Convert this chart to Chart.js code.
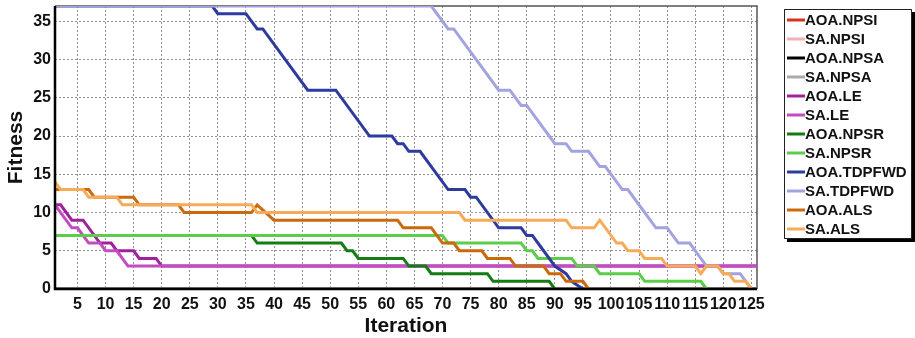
<!DOCTYPE html>
<html lang="en">
<head>
<meta charset="utf-8">
<title>Fitness vs Iteration</title>
<script src="https://cdn.jsdelivr.net/npm/chart.js@4.4.1/dist/chart.umd.min.js"></script>
<style>
    html, body { margin: 0; padding: 0; background: #fff; }
    #wrap { width: 915px; height: 338px; }
</style>
</head>
<body>
<div id="wrap"><canvas id="fitnessChart" width="915" height="338"></canvas></div>
<script>
// Series, in legend order
const seriesNames = ['AOA.NPSI', 'SA.NPSI', 'AOA.NPSA', 'SA.NPSA', 'AOA.LE', 'SA.LE',
    'AOA.NPSR', 'SA.NPSR', 'AOA.TDPFWD', 'SA.TDPFWD', 'AOA.ALS', 'SA.ALS'];

// Axis ticks
const xTicks = [5, 10, 15, 20, 25, 30, 35, 40, 45, 50, 55, 60, 65, 70, 75, 80, 85, 90, 95,
    100, 105, 110, 115, 120, 125];
const yTicks = [0, 5, 10, 15, 20, 25, 30, 35];

// Best fitness per run, as [iteration, fitness] break points (straight segments between them)
const aoaNpsi = [[1, 0], [126, 0]];
const saNpsi = [[1, 0], [126, 0]];
const aoaNpsa = [[1, 0], [126, 0]];
const saNpsa = [[1, 0], [126, 0]];
const aoaLe = [[1, 11], [2, 11], [4, 9], [6, 9], [9, 6], [11, 6], [12, 5], [15, 5], [16, 4],
    [19, 4], [20, 3], [126, 3]];
const saLe = [[1, 11], [2, 10], [4, 8], [5, 8], [7, 6], [9, 6], [10, 5], [12, 5], [14, 3], [126, 3]];
const aoaNpsr = [[1, 7], [36, 7], [37, 6], [52, 6], [53, 5], [54, 5], [55, 4], [63, 4], [64, 3],
    [67, 3], [68, 2], [78, 2], [79, 1], [89, 1], [90, 0]];
const saNpsr = [[1, 7], [70, 7], [71, 6], [84, 6], [85, 5], [86, 5], [87, 4], [93, 4], [94, 3],
    [97, 3], [98, 2], [105, 2], [106, 1], [116, 1], [117, 0]];
const aoaTdpfwd = [[1, 37], [29, 37], [30, 36], [35, 36], [37, 34], [38, 34], [46, 26], [51, 26],
    [57, 20], [61, 20], [62, 19], [63, 19], [64, 18], [66, 18], [71, 13], [74, 13], [75, 12],
    [76, 12], [80, 8], [84, 8], [85, 7], [86, 7], [88, 5], [89, 4], [90, 3], [92, 2], [93, 1], [95, 0]];
const saTdpfwd = [[1, 37], [68, 37], [71, 34], [72, 34], [80, 26], [82, 26], [84, 24], [85, 24],
    [90, 19], [92, 19], [93, 18], [96, 18], [98, 16], [99, 16], [102, 13], [103, 13], [108, 8],
    [110, 8], [112, 6], [114, 6], [117, 3], [119, 3], [120, 2], [123, 2], [125, 0]];
const aoaAls = [[1, 13], [7, 13], [8, 12], [15, 12], [16, 11], [23, 11], [24, 10], [36, 10],
    [37, 11], [40, 9], [62, 9], [63, 8], [68, 8], [70, 6], [72, 6], [73, 5], [77, 5], [78, 4],
    [82, 4], [83, 3], [88, 3], [89, 2], [91, 2], [92, 1], [95, 1], [96, 0]];
const saAls = [[1, 14], [2, 13], [6, 13], [7, 12], [12, 12], [13, 11], [36, 11], [37, 10],
    [73, 10], [74, 9], [92, 9], [93, 8], [97, 8], [98, 9], [101, 6], [102, 6], [103, 5], [105, 5],
    [106, 4], [109, 4], [110, 3], [115, 3], [116, 2], [117, 3], [119, 3], [120, 2], [121, 2],
    [122, 1], [124, 1], [125, 0]];

const seriesData = [aoaNpsi, saNpsi, aoaNpsa, saNpsa, aoaLe, saLe,
    aoaNpsr, saNpsr, aoaTdpfwd, saTdpfwd, aoaAls, saAls];

const seriesColors = ['#d8321e', '#f5b0b0', '#000000', '#aaaaaa', '#a1219d', '#c24cc2',
    '#137c13', '#5ccc4a', '#2d3b9e', '#a3a3e0', '#cb6a0c', '#f7aa58'];

const FONT = "'Liberation Sans', Arial, sans-serif";
const TEXT = '#111';

// Replace the generated ticks with a fixed list
function fixedTicks(values) {
    return (scale) => {
        scale.ticks = values.map(v => ({ value: v }));
    };
}

// Frame: thin grey top/right edge under the lines, black axes over them
const plotFrame = {
    id: 'plotFrame',
    beforeDatasetsDraw(chart) {
        const { ctx, chartArea: a } = chart;
        ctx.save();
        ctx.strokeStyle = '#555';
        ctx.lineWidth = 1.5;
        ctx.beginPath();
        ctx.moveTo(a.left, a.top);
        ctx.lineTo(a.right, a.top);
        ctx.lineTo(a.right, a.bottom);
        ctx.stroke();
        ctx.restore();
    },
    afterDatasetsDraw(chart) {
        const { ctx, chartArea: a } = chart;
        ctx.save();
        ctx.strokeStyle = '#000';
        ctx.lineWidth = 2.5;
        ctx.beginPath();
        ctx.moveTo(a.left, a.top);
        ctx.lineTo(a.left, a.bottom);
        ctx.lineTo(a.right, a.bottom);
        ctx.stroke();
        ctx.restore();
    }
};

// Boxed legend with drop shadow on the right side
const boxLegend = {
    id: 'boxLegend',
    afterDraw(chart) {
        const ctx = chart.ctx;
        const x = 784, y = 9, w = 128, h = 230, rowH = 19;
        ctx.save();
        ctx.fillStyle = '#000';
        ctx.fillRect(x + 3, y + 3, w, h);
        ctx.fillStyle = '#fff';
        ctx.fillRect(x, y, w, h);
        ctx.strokeStyle = '#222';
        ctx.lineWidth = 1;
        ctx.strokeRect(x + 0.5, y + 0.5, w - 1, h - 1);

        ctx.font = 'bold 15px ' + FONT;
        ctx.textBaseline = 'middle';
        ctx.textAlign = 'left';
        chart.data.datasets.forEach((ds, i) => {
            const cy = y + 11 + i * rowH;
            ctx.strokeStyle = ds.borderColor;
            ctx.lineWidth = 3;
            ctx.beginPath();
            ctx.moveTo(x + 3, cy);
            ctx.lineTo(x + 21, cy);
            ctx.stroke();
            ctx.fillStyle = TEXT;
            ctx.fillText(ds.label, x + 21, cy + 1);
        });
        ctx.restore();
    }
};

const datasets = seriesNames.map((name, i) => ({
    label: name,
    data: seriesData[i].map(([x, y]) => ({ x, y })),
    borderColor: seriesColors[i],
    backgroundColor: seriesColors[i],
    borderWidth: 3,
    pointRadius: 0,
    tension: 0,
    fill: false,
    // later series are painted over earlier ones
    order: seriesNames.length - i
}));

new Chart(document.getElementById('fitnessChart'), {
    type: 'line',
    data: { datasets },
    options: {
        responsive: false,
        animation: false,
        events: [],
        layout: { padding: { left: 0, right: 158, top: 6, bottom: 0 } },
        plugins: {
            legend: { display: false },
            tooltip: { enabled: false }
        },
        scales: {
            x: {
                type: 'linear',
                min: 1,
                max: 126,
                afterBuildTicks: fixedTicks(xTicks),
                afterFit(scale) {
                    scale.height = 49;
                    scale.paddingLeft = 0;
                    scale.paddingRight = 0;
                },
                ticks: {
                    autoSkip: false,
                    maxRotation: 0,
                    minRotation: 0,
                    padding: 6,
                    color: TEXT,
                    font: { family: FONT, size: 16, weight: 'bold' }
                },
                grid: {
                    color: '#8f8f8f',
                    lineWidth: 1,
                    drawTicks: false
                },
                border: { display: false, dash: [2, 2] },
                title: {
                    display: true,
                    text: 'Iteration',
                    color: TEXT,
                    padding: { top: 0, bottom: 0 },
                    font: { family: FONT, size: 21, weight: 'bold', lineHeight: 1.1 }
                }
            },
            y: {
                min: 0,
                max: 37,
                afterBuildTicks: fixedTicks(yTicks),
                afterFit(scale) {
                    scale.width = 55;
                    scale.paddingTop = 0;
                    scale.paddingBottom = 0;
                },
                ticks: {
                    autoSkip: false,
                    padding: 4,
                    color: TEXT,
                    font: { family: FONT, size: 16, weight: 'bold' }
                },
                grid: {
                    color: '#8f8f8f',
                    lineWidth: 1,
                    drawTicks: false
                },
                border: { display: false, dash: [2, 2] },
                title: {
                    display: true,
                    text: 'Fitness',
                    color: TEXT,
                    padding: { top: 4, bottom: 0 },
                    font: { family: FONT, size: 21, weight: 'bold' }
                }
            }
        }
    },
    plugins: [plotFrame, boxLegend]
});
</script>
</body>
</html>
